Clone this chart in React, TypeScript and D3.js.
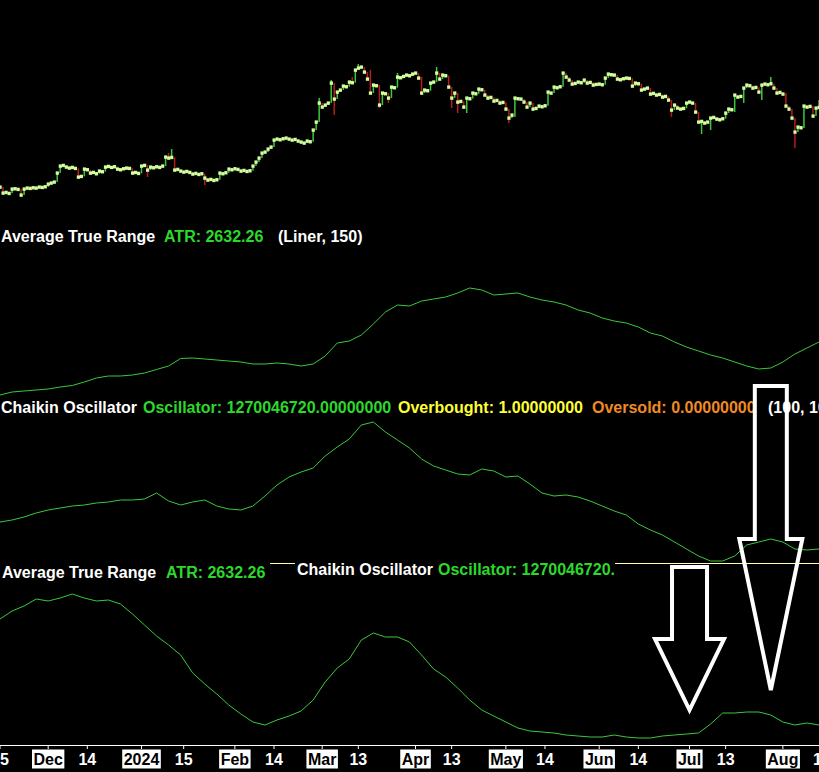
import { useEffect, useRef } from 'react';
import * as d3 from 'd3';

const W = 819;
const H = 772;
const DAY = 86400000;
const firstDay = Date.UTC(2023, 10, 15);
const lastDay = Date.UTC(2024, 7, 13);

// daily closes, thousands of USD, from 2023-11-15
const closeK = [
    37.4, 35.6, 35.8, 35.5, 36.8, 36.9, 36.7, 35.0, 36.8, 37.1,
    37.0, 37.2, 37.1, 37.4, 37.3, 37.5, 38.3, 38.6, 38.9, 41.6,
    43.7, 43.9, 43.4, 43.1, 43.3, 43.0, 40.4, 40.6, 42.8, 42.6,
    41.6, 41.8, 41.4, 42.2, 42.0, 43.4, 43.6, 43.3, 43.5, 42.8,
    42.6, 42.9, 43.1, 43.0, 41.6, 41.8, 41.5, 43.7, 43.9, 42.5,
    43.4, 43.2, 43.5, 43.3, 43.7, 46.4, 46.1, 46.3, 42.5, 42.7,
    42.2, 41.9, 42.1, 41.8, 41.3, 41.5, 41.2, 41.4, 40.1, 39.5,
    39.7, 39.4, 39.6, 41.6, 41.4, 41.7, 42.8, 42.6, 42.9, 42.7,
    42.2, 42.4, 42.1, 42.3, 43.7, 44.9, 46.1, 47.6, 47.9, 48.8,
    49.4, 51.5, 51.8, 51.6, 51.9, 52.1, 51.8, 51.5, 51.7, 51.2,
    50.9, 50.6, 51.2, 51.0, 54.5, 56.9, 62.6, 61.4, 62.0, 62.6,
    68.6, 63.8, 65.9, 66.5, 67.7, 67.5, 68.9, 68.7, 72.5, 73.1,
    73.4, 71.9, 69.8, 65.6, 68.0, 67.8, 62.0, 65.6, 65.4, 64.1,
    67.4, 67.2, 70.4, 70.2, 70.6, 71.0, 70.8, 71.3, 71.6, 70.1,
    65.6, 66.5, 66.3, 68.6, 68.9, 71.6, 69.8, 71.0, 70.8, 67.4,
    64.1, 65.6, 62.9, 63.1, 61.4, 64.1, 63.9, 65.6, 65.4, 66.8,
    66.6, 65.0, 64.1, 64.3, 63.2, 63.4, 62.6, 62.8, 60.8, 58.1,
    59.0, 64.1, 63.9, 63.8, 62.9, 61.4, 62.6, 60.8, 61.0, 61.7,
    61.5, 61.8, 65.9, 65.6, 67.4, 67.2, 67.5, 71.6, 70.4, 69.5,
    68.3, 68.5, 68.9, 68.7, 69.5, 68.6, 68.8, 68.0, 68.2, 68.3,
    68.1, 70.1, 71.3, 71.1, 71.0, 69.8, 69.6, 69.9, 70.1, 70.0,
    67.7, 68.6, 68.4, 66.5, 66.8, 67.1, 65.3, 65.5, 65.0, 65.2,
    64.4, 64.6, 63.5, 60.5, 62.0, 61.1, 60.8, 61.0, 62.6, 62.9,
    62.6, 59.9, 56.9, 57.1, 56.6, 56.9, 58.1, 58.3, 57.8, 57.6,
    57.9, 59.6, 60.8, 60.6, 65.0, 64.4, 64.6, 67.1, 68.0, 67.8,
    67.1, 67.3, 65.9, 68.0, 68.3, 68.1, 68.4, 67.1, 65.6, 65.8,
    65.3, 61.7, 60.8, 58.1, 53.9, 55.4, 55.2, 61.7, 61.4, 61.6,
    58.7, 61.1, 61.3,
];

// [day index, high, low] for the bars with visible wicks
const wicks: [number, number, number][] = [
    [7, 36.8, 34.4], [26, 43.0, 39.8], [49, 43.9, 40.4], [56, 47.6, 46.1],
    [57, 48.8, 46.1], [68, 41.4, 38.0], [106, 64.1, 56.9], [110, 69.5, 62.6],
    [111, 68.6, 59.0], [117, 70.4, 68.7], [119, 74.3, 72.5], [123, 72.5, 65.6],
    [126, 68.0, 61.1], [129, 65.6, 62.6], [132, 71.6, 67.2], [140, 70.4, 65.0],
    [145, 73.4, 68.9], [150, 67.4, 61.1], [152, 65.6, 59.6], [155, 64.1, 59.6],
    [169, 60.8, 56.6], [171, 64.1, 58.4], [223, 63.5, 58.4], [233, 57.1, 53.3],
    [236, 58.1, 54.5], [244, 65.0, 59.9], [247, 67.1, 62.6], [253, 68.0, 63.5],
    [256, 70.4, 68.1], [261, 65.6, 61.7], [264, 58.1, 49.1], [267, 61.7, 55.1],
    [272, 63.5, 61.1],
];

// indicator readings, one every 4 days from the first bar
const sampleStep = 4;
const atrValues = [
    777, 882, 917, 952, 987, 1057, 1110, 1232, 1372, 1442,
    1442, 1477, 1547, 1670, 1792, 2055, 2072, 2037, 2002, 1967,
    1932, 1862, 1862, 1897, 1862, 1792, 1862, 2142, 2597, 2667,
    2877, 3262, 3682, 3927, 3892, 4067, 4137, 4207, 4347, 4522,
    4452, 4277, 4312, 4347, 4207, 4102, 4032, 3927, 3752, 3647,
    3472, 3367, 3297, 3157, 2947, 2842, 2632, 2457, 2317, 2177,
    2072, 1932, 1792, 1687, 1722, 1932, 2212, 2422, 2632,
];
// Chaikin oscillator, millions
const chaikinM = [
    2350, 2430, 2550, 2710, 2830, 2910, 2990, 3030, 3110, 3150,
    3230, 3230, 3270, 3510, 3190, 3030, 3150, 3230, 2990, 2870,
    2830, 2990, 3390, 3830, 4150, 4350, 4510, 4990, 5350, 5670,
    6230, 6350, 5950, 5630, 5310, 4870, 4590, 4430, 4270, 4230,
    4470, 4390, 4150, 4190, 3870, 3510, 3390, 3430, 3350, 3190,
    2990, 2790, 2630, 2270, 2030, 1830, 1550, 1270, 990, 790,
    790, 990, 1430, 1550, 1670, 1550, 1270, 1230, 1270,
];
// lower overlay pane, millions
const lowerM = [
    4450, 4690, 4840, 5050, 4990, 5080, 5200, 5080, 4990, 5020,
    4900, 4600, 4270, 3940, 3670, 3370, 2830, 2500, 2200, 1870,
    1600, 1360, 1270, 1420, 1540, 1690, 2020, 2560, 2980, 3250,
    3820, 4030, 3910, 3910, 3760, 3370, 2950, 2710, 2380, 2020,
    1720, 1540, 1360, 1180, 1090, 1060, 1030, 970, 940, 910,
    910, 970, 910, 880, 880, 940, 970, 1000, 1030, 1300,
    1630, 1630, 1660, 1660, 1570, 1360, 1270, 1330, 1270,
];

// [date, label, month marker]
const axisTicks: [string, string, boolean][] = [
    ['2023-11-15', '15', false], ['2023-12-01', 'Dec', true], ['2023-12-14', '14', false],
    ['2024-01-01', '2024', true], ['2024-01-15', '15', false], ['2024-02-01', 'Feb', true],
    ['2024-02-14', '14', false], ['2024-03-01', 'Mar', true], ['2024-03-13', '13', false],
    ['2024-04-01', 'Apr', true], ['2024-04-13', '13', false], ['2024-05-01', 'May', true],
    ['2024-05-14', '14', false], ['2024-06-01', 'Jun', true], ['2024-06-14', '14', false],
    ['2024-07-01', 'Jul', true], ['2024-07-13', '13', false], ['2024-08-01', 'Aug', true],
    ['2024-08-14', '14', false],
];

const GREEN = '#2bd92b';
const LINE_GREEN = '#3cc83c';
const FONT = '"Liberation Sans", Arial, sans-serif';

const App = () => {
    const ref = useRef<SVGSVGElement>(null);

    useEffect(() => {
        const svg = d3.select(ref.current);
        svg.selectAll('*').remove();

        const x = d3.scaleUtc()
            .domain([new Date(firstDay), new Date(lastDay)])
            .range([0, W]);
        const dayX = (i: number) => x(new Date(firstDay + i * DAY));

        const yPrice = d3.scaleLinear().domain([33.5, 77.0]).range([200, 55]);
        const yAtr = d3.scaleLinear().domain([602, 4802]).range([400, 280]);
        const yChaikin = d3.scaleLinear().domain([430, 6630]).range([570, 415]);
        const yLower = d3.scaleLinear().domain([670, 5470]).range([745, 585]);

        svg.append('rect').attr('width', W).attr('height', H).attr('fill', '#000');

        // price bars
        const wickMap = new Map(wicks.map((w) => [w[0], w]));
        const bars = closeK.map((c, i) => {
            const o = i > 0 ? closeK[i - 1] : c;
            const w = wickMap.get(i);
            const hi = Math.max(o, c, w ? w[1] : c);
            const lo = Math.min(o, c, w ? w[2] : c);
            return { i, o, c, hi, lo };
        });

        const gBars = svg.append('g');
        gBars.selectAll('line')
            .data(bars)
            .join('line')
            .attr('x1', (d) => dayX(d.i))
            .attr('x2', (d) => dayX(d.i))
            .attr('y1', (d) => yPrice(d.hi))
            .attr('y2', (d) => yPrice(d.lo))
            .attr('stroke', (d) => (d.c >= d.o ? LINE_GREEN : '#b51c1c'))
            .attr('stroke-width', 1.5);
        gBars.selectAll('rect')
            .data(bars)
            .join('rect')
            .attr('x', (d) => dayX(d.i) - 1.5)
            .attr('y', (d) => yPrice(d.c) - 1.6)
            .attr('width', 3.2)
            .attr('height', 3.4)
            .attr('fill', '#d4ff9f');

        const drawLine = (values: number[], y: d3.ScaleLinear<number, number>) => {
            const line = d3.line<number>()
                .x((_, k) => dayX(k * sampleStep))
                .y((v) => y(v));
            svg.append('path')
                .datum(values)
                .attr('d', line)
                .attr('fill', 'none')
                .attr('stroke', LINE_GREEN)
                .attr('stroke-width', 1);
        };

        drawLine(atrValues, yAtr);
        drawLine(chaikinM, yChaikin);
        drawLine(lowerM, yLower);

        const label = (g: d3.Selection<any, unknown, null, undefined>, px: number, py: number, text: string, color: string) =>
            g.append('text')
                .attr('x', px)
                .attr('y', py)
                .attr('fill', color)
                .style('font-family', FONT)
                .style('font-weight', 'bold')
                .style('font-size', '16px')
                .text(text);

        const gLabels = svg.append('g');
        label(gLabels, 1, 242, 'Average True Range', '#fff');
        label(gLabels, 164, 242, 'ATR: 2632.26', GREEN);
        label(gLabels, 278, 242, '(Liner, 150)', '#fff');

        label(gLabels, 1, 413, 'Chaikin Oscillator', '#fff');
        label(gLabels, 143, 413, 'Oscillator: 1270046720.00000000', GREEN);
        label(gLabels, 398, 413, 'Overbought: 1.00000000', '#ffff33');
        label(gLabels, 592, 413, 'Oversold: 0.00000000', '#f08a24');
        label(gLabels, 768, 413, '(100, 10)', '#fff');

        label(gLabels, 2, 578, 'Average True Range', '#fff');
        label(gLabels, 166, 578, 'ATR: 2632.26', GREEN);

        // overlay legend of the lower pane
        gLabels.append('line')
            .attr('x1', 270).attr('x2', W)
            .attr('y1', 563.5).attr('y2', 563.5)
            .attr('stroke', '#ffffa0').attr('stroke-width', 1);
        gLabels.append('rect')
            .attr('x', 295).attr('y', 562).attr('width', 320).attr('height', 18)
            .attr('fill', '#000');
        label(gLabels, 297, 575, 'Chaikin Oscillator', '#fff');
        label(gLabels, 438, 575, 'Oscillator: 1270046720.', GREEN);

        // drawn arrows
        const arrows = [
            { day: Date.UTC(2024, 6, 1), half: 17.5, headHalf: 34.5, top: 567, headY: 639, tipY: 710 },
            { day: Date.UTC(2024, 6, 28), half: 16, headHalf: 31.5, top: 386, headY: 539, tipY: 690 },
        ];
        arrows.forEach((a) => {
            const cx = x(new Date(a.day));
            const pts: [number, number][] = [
                [cx - a.half, a.top], [cx + a.half, a.top], [cx + a.half, a.headY],
                [cx + a.headHalf, a.headY], [cx, a.tipY], [cx - a.headHalf, a.headY],
                [cx - a.half, a.headY],
            ];
            svg.append('path')
                .attr('d', d3.line()(pts) + 'Z')
                .attr('fill', 'none')
                .attr('stroke', '#fff')
                .attr('stroke-width', 4);
        });

        // time axis
        const gAxis = svg.append('g');
        gAxis.append('line')
            .attr('x1', 0).attr('x2', W)
            .attr('y1', 745.5).attr('y2', 745.5)
            .attr('stroke', '#fff');
        axisTicks.forEach(([d, t, month]) => {
            const tx = x(new Date(d));
            gAxis.append('line')
                .attr('x1', tx).attr('x2', tx)
                .attr('y1', 745).attr('y2', 749)
                .attr('stroke', '#fff');
            const bg = gAxis.append('rect');
            const txt = label(gAxis, tx, 765, t, month ? '#000' : '#fff')
                .attr('text-anchor', 'middle');
            if (month) {
                const tw = (txt.node() as SVGTextElement).getComputedTextLength();
                bg.attr('x', tx - tw / 2 - 1.5)
                    .attr('y', 749.5)
                    .attr('width', tw + 3)
                    .attr('height', 19)
                    .attr('fill', '#fff');
            }
        });
    }, []);

    return (
        <svg ref={ref} width={W} height={H} style={{ position: 'absolute', left: 0, top: 0, display: 'block' }} />
    );
};

export default App;
